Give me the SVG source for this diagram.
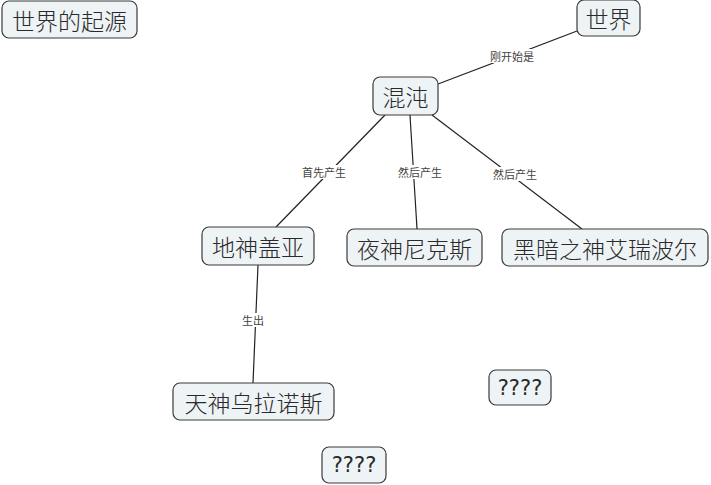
<svg xmlns="http://www.w3.org/2000/svg" width="711" height="485" viewBox="0 0 711 485">
<style>
.n rect{fill:#eef3f5;stroke:#3a3a3a;stroke-width:1.2}
.n text{font-family:"Noto Sans CJK SC","Liberation Sans",sans-serif;font-size:23px;font-weight:300;fill:#2a2a2a;text-anchor:middle;dominant-baseline:central}
.n text.q{font-family:"DejaVu Sans",sans-serif;font-size:21px;font-weight:normal}
.c line{stroke:#222;stroke-width:1.2}
.c rect{fill:#fff}
.c text{font-family:"Noto Sans CJK SC","Liberation Sans",sans-serif;font-size:11px;fill:#444;text-anchor:middle;dominant-baseline:central}
</style>
<rect width="711" height="485" fill="#fff"/>
<g id="connectors" class="c">
<line x1="577" y1="31" x2="438" y2="84"/>
<rect x="487" y="49" width="50" height="14"/>
<text x="512" y="56">刚开始是</text>
<line x1="385" y1="115" x2="276" y2="227"/>
<rect x="299" y="165" width="50" height="14"/>
<text x="324" y="172">首先产生</text>
<line x1="410" y1="115" x2="417" y2="229"/>
<rect x="395" y="165" width="50" height="14"/>
<text x="420" y="172">然后产生</text>
<line x1="432" y1="115" x2="582" y2="229"/>
<rect x="490" y="167" width="50" height="14"/>
<text x="515" y="174">然后产生</text>
<line x1="258" y1="265" x2="253" y2="383"/>
<rect x="240" y="313" width="26" height="14"/>
<text x="253" y="320">生出</text>
</g>
<g id="n-origin" class="n"><rect x="2" y="1" width="135" height="37" rx="7"/><text x="69.5" y="19.5">世界的起源</text></g>
<g id="n-world" class="n"><rect x="577" y="0" width="63" height="36" rx="7"/><text x="608.5" y="18">世界</text></g>
<g id="n-chaos" class="n"><rect x="373" y="77" width="65" height="38" rx="7"/><text x="405.5" y="96">混沌</text></g>
<g id="n-gaia" class="n"><rect x="202" y="227" width="112" height="38" rx="7"/><text x="258" y="246">地神盖亚</text></g>
<g id="n-nyx" class="n"><rect x="347" y="229" width="135" height="37" rx="7"/><text x="414.5" y="247.5">夜神尼克斯</text></g>
<g id="n-erebus" class="n"><rect x="502" y="229" width="206" height="37" rx="7"/><text x="605" y="247.5">黑暗之神艾瑞波尔</text></g>
<g id="n-uranus" class="n"><rect x="173" y="383" width="161" height="37" rx="7"/><text x="253.5" y="401.5">天神乌拉诺斯</text></g>
<g id="n-q1" class="n"><rect x="489" y="370" width="62" height="35" rx="7"/><text class="q" x="520" y="387.5">????</text></g>
<g id="n-q2" class="n"><rect x="322" y="447" width="64" height="36" rx="7"/><text class="q" x="354" y="465">????</text></g>
</svg>
